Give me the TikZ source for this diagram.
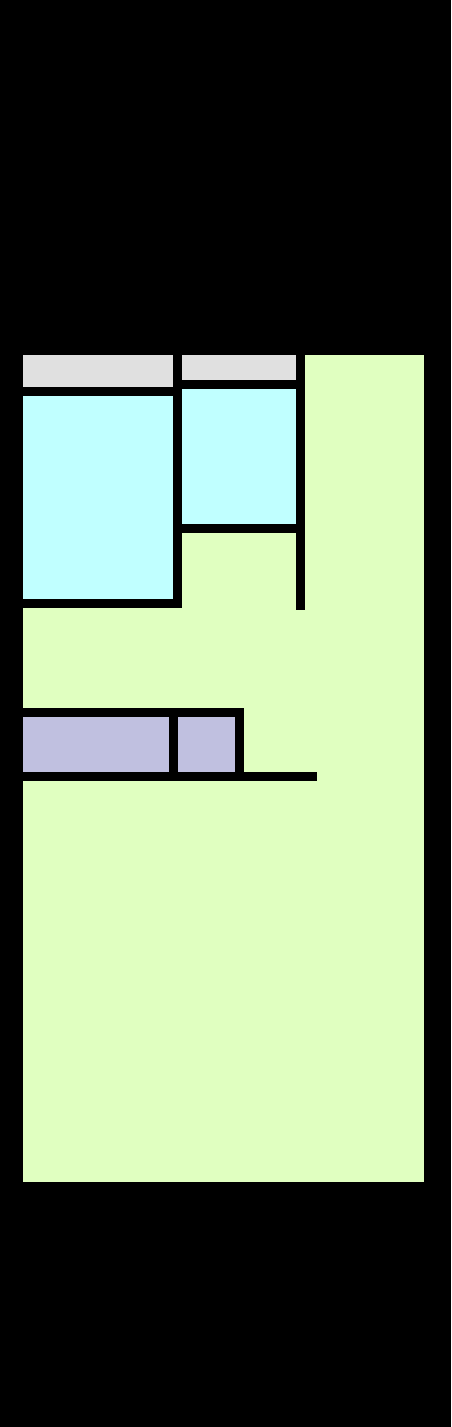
\documentclass[tikz,border=0pt]{standalone}
\usepackage{tikz}

\definecolor{floorgreen}{HTML}{E0FFC0}
\definecolor{roomgrey}{HTML}{E0E0E0}
\definecolor{roomcyan}{HTML}{C0FFFF}
\definecolor{roompurple}{HTML}{C0C0E0}

\begin{document}
\begin{tikzpicture}[x=0.02cm,y=-0.02cm,
  wall/.style={fill=black},
  grey room/.style={fill=roomgrey},
  cyan room/.style={fill=roomcyan},
  purple room/.style={fill=roompurple}]
  \def \minx {23}
  \def \maxx {424}
  \def \miny {355}
  \def \maxy {1182}

  \fill[black] (0,0) rectangle (451,1427);
  \useasboundingbox (0,0) rectangle (451,1427);

  \fill[fill=floorgreen] (\minx,\miny) rectangle (\maxx,\maxy);

  % upper rooms
  \fill[grey room] (\minx,\miny) rectangle (173,387);
  \fill[grey room] (182,\miny) rectangle (296,380);
  \fill[cyan room] (\minx,396) rectangle (173,599);
  \fill[cyan room] (182,389) rectangle (296,524);

  % lower rooms
  \fill[purple room] (\minx,717) rectangle (169,772);
  \fill[purple room] (178,717) rectangle (235,772);

  % walls
  \fill[wall] (173,\miny) rectangle (182,608);
  \fill[wall] (\minx,387) rectangle (173,396);
  \fill[wall] (\minx,599) rectangle (182,608);
  \fill[wall] (182,380) rectangle (296,389);
  \fill[wall] (182,524) rectangle (296,533);
  \fill[wall] (296,\miny) rectangle (305,610);

  \fill[wall] (\minx,708) rectangle (244,717);
  \fill[wall] (169,717) rectangle (178,772);
  \fill[wall] (235,708) rectangle (244,772);
  \fill[wall] (\minx,772) rectangle (317,781);
\end{tikzpicture}
\end{document}
